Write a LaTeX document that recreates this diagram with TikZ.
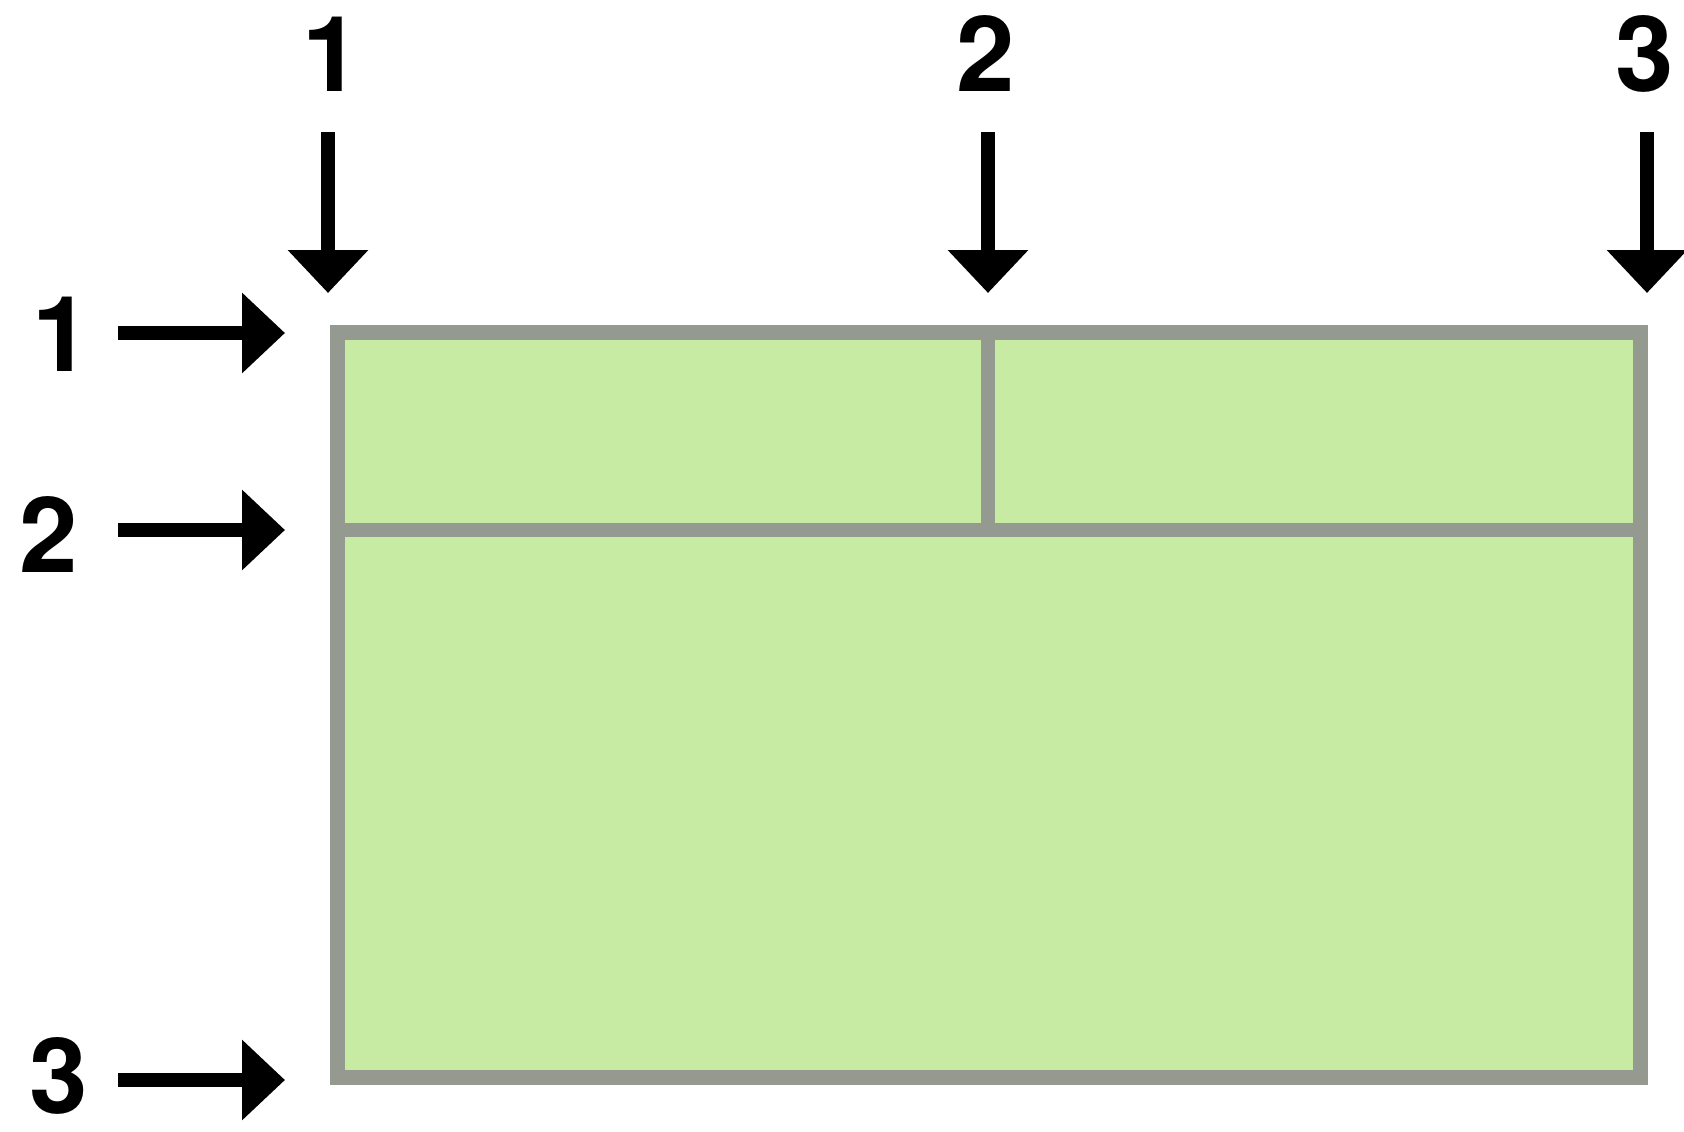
\documentclass[tikz,border=0pt]{standalone}
\usepackage{fontspec}
\setmainfont{TeX Gyre Heros}
\usetikzlibrary{arrows.meta}
\definecolor{cellgreen}{RGB}{200,235,163}
\definecolor{gridgray}{RGB}{148,154,144}
\begin{document}
\begin{tikzpicture}[x=1pt,y=-1pt,
  lbl/.style={inner sep=0pt,anchor=base,font=\fontsize{105}{105}\selectfont\bfseries},
  pointer/.style={line width=14pt,-{Triangle[length=43pt,width=78pt]}},
  gridline/.style={draw=gridgray,line width=14pt}]
\useasboundingbox[fill=white] (0,0) rectangle (1684,1132);
% table
\path[fill=cellgreen,draw=gridgray,line width=15pt] (337.5,332.5) rectangle (1640.5,1077.5);
\coordinate (hl) at (337.5,530);
\coordinate (hr) at (1640.5,530);
\coordinate (vt) at (988,332.5);
\coordinate (vb) at (988,530);
\draw[gridline] (hl) -- (hr);
\draw[gridline] (vt) -- (vb);
% top labels
\node[lbl] (c1) at (332,92) {1};
\node[lbl] (c2) at (986,92) {2};
\node[lbl] (c3) at (1645,92) {3};
% left labels
\node[lbl] (r1) at (62,371) {1};
\node[lbl] (r2) at (49,572) {2};
\node[lbl] (r3) at (59,1113) {3};
% arrow coordinates
\coordinate (c1s) at (328,132); \coordinate (c1e) at (328,293);
\coordinate (c2s) at (988,132); \coordinate (c2e) at (988,293);
\coordinate (c3s) at (1647,132); \coordinate (c3e) at (1647,293);
\coordinate (r1s) at (118,333); \coordinate (r1e) at (285,333);
\coordinate (r2s) at (118,530); \coordinate (r2e) at (285,530);
\coordinate (r3s) at (118,1080); \coordinate (r3e) at (285,1080);
\draw[pointer] (c1s) -- (c1e);
\draw[pointer] (c2s) -- (c2e);
\draw[pointer] (c3s) -- (c3e);
\draw[pointer] (r1s) -- (r1e);
\draw[pointer] (r2s) -- (r2e);
\draw[pointer] (r3s) -- (r3e);
\end{tikzpicture}
\end{document}
